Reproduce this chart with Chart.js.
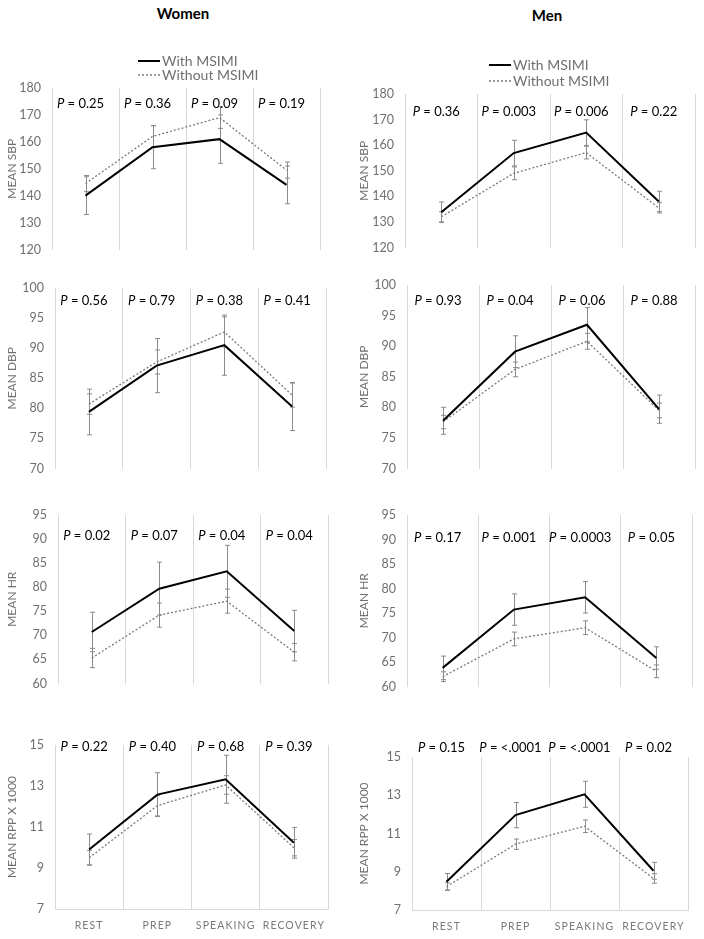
<!DOCTYPE html>
<html lang="en">
<head>
  <meta charset="UTF-8">
  <title>Hemodynamics with and without MSIMI</title>
  <script src="https://cdn.jsdelivr.net/npm/chart.js"></script>
  <style>
    body { margin: 0; background: #fff; }
    #page { position: relative; width: 704px; height: 939px; font-family: Lato, sans-serif; }
    .col-title { position: absolute; font-weight: bold; font-size: 15px; transform: translateX(-50%); }
    .panel { position: absolute; width: 352px; }
  </style>
</head>
<body>
<div id="page">
  <div class="col-title" style="left:183px; top:4px;">Women</div>
  <div class="col-title" style="left:547px; top:6px;">Men</div>
</div>

<script>
  const categories = ['REST', 'PREP', 'SPEAKING', 'RECOVERY'];

  // Women
  const sbpWomenWith = [140, 158, 161, 144];
  const sbpWomenWithErr = [7, 8, 9, 7];
  const sbpWomenWithout = [144.5, 162, 169, 149.5];
  const sbpWomenWithoutErr = [3, 4, 4, 3];
  const dbpWomenWith = [79.4, 87.1, 90.5, 80.3];
  const dbpWomenWithErr = [3.8, 4.5, 5, 4];
  const dbpWomenWithout = [80.7, 87.7, 92.7, 82.2];
  const dbpWomenWithoutErr = [1.7, 2, 2.5, 2];
  const hrWomenWith = [70.7, 79.7, 83.3, 70.9];
  const hrWomenWithErr = [4.1, 5.5, 5.4, 4.3];
  const hrWomenWithout = [65.3, 74.2, 77.1, 66.5];
  const hrWomenWithoutErr = [2, 2.5, 2.5, 1.8];
  const rppWomenWith = [9.9, 12.58, 13.33, 10.23];
  const rppWomenWithErr = [0.76, 1.07, 1.17, 0.75];
  const rppWomenWithout = [9.5, 12.04, 13.05, 9.99];
  const rppWomenWithoutErr = [0.35, 0.5, 0.45, 0.4];

  // Men
  const sbpMenWith = [133.8, 156.9, 164.9, 138];
  const sbpMenWithErr = [4, 5, 5, 4];
  const sbpMenWithout = [132, 149, 157.1, 135.5];
  const sbpMenWithoutErr = [2, 2.5, 2.5, 2];
  const dbpMenWith = [77.8, 89.1, 93.5, 79.7];
  const dbpMenWithErr = [2.2, 2.6, 2.8, 2.3];
  const dbpMenWithout = [77.6, 86.2, 90.8, 79.5];
  const dbpMenWithoutErr = [1.1, 1.2, 1.3, 1.2];
  const hrMenWith = [63.8, 75.7, 78.2, 65.8];
  const hrMenWithErr = [2.4, 3.2, 3.2, 2.3];
  const hrMenWithout = [62, 69.7, 72, 63.1];
  const hrMenWithoutErr = [1, 1.4, 1.4, 1.3];
  const rppMenWith = [8.48, 11.96, 13.05, 9.05];
  const rppMenWithErr = [0.43, 0.66, 0.68, 0.44];
  const rppMenWithout = [8.22, 10.44, 11.38, 8.65];
  const rppMenWithoutErr = [0.2, 0.27, 0.33, 0.25];

  // P values per phase
  const pSbpWomen = ['0.25', '0.36', '0.09', '0.19'];
  const pSbpMen = ['0.36', '0.003', '0.006', '0.22'];
  const pDbpWomen = ['0.56', '0.79', '0.38', '0.41'];
  const pDbpMen = ['0.93', '0.04', '0.06', '0.88'];
  const pHrWomen = ['0.02', '0.07', '0.04', '0.04'];
  const pHrMen = ['0.17', '0.001', '0.0003', '0.05'];
  const pRppWomen = ['0.22', '0.40', '0.68', '0.39'];
  const pRppMen = ['0.15', '<.0001', '<.0001', '0.02'];

  const greyText = '#707070';
  const page = document.getElementById('page');

  // area = [left, top, right, bottom] of the plot area on the page
  const panels = [
    { col: 0, top: 0, area: [52, 88, 320, 256], yMin: 120, yMax: 180, step: 10, title: 'MEAN SBP',
      w: sbpWomenWith, we: sbpWomenWithErr, wo: sbpWomenWithout, woe: sbpWomenWithoutErr, p: pSbpWomen, pY: 16,
      legend: { x: 138, y: [61, 75] } },
    { col: 352, top: 0, area: [405, 94, 695, 254], yMin: 120, yMax: 180, step: 10, title: 'MEAN SBP',
      w: sbpMenWith, we: sbpMenWithErr, wo: sbpMenWithout, woe: sbpMenWithoutErr, p: pSbpMen, pY: 18,
      legend: { x: 137, y: [65, 81] } },
    { col: 0, top: 258, area: [55, 288, 326, 475], yMin: 70, yMax: 100, step: 5, title: 'MEAN DBP',
      w: dbpWomenWith, we: dbpWomenWithErr, wo: dbpWomenWithout, woe: dbpWomenWithoutErr, p: pDbpWomen, pY: 13 },
    { col: 352, top: 255, area: [407, 285, 695, 475], yMin: 70, yMax: 100, step: 5, title: 'MEAN DBP',
      w: dbpMenWith, we: dbpMenWithErr, wo: dbpMenWithout, woe: dbpMenWithoutErr, p: pDbpMen, pY: 16 },
    { col: 0, top: 485, area: [58, 515, 328, 690], yMin: 60, yMax: 95, step: 5, title: 'MEAN HR',
      w: hrWomenWith, we: hrWomenWithErr, wo: hrWomenWithout, woe: hrWomenWithoutErr, p: pHrWomen, pY: 21 },
    { col: 352, top: 485, area: [407, 515, 692, 693], yMin: 60, yMax: 95, step: 5, title: 'MEAN HR',
      w: hrMenWith, we: hrMenWithErr, wo: hrMenWithout, woe: hrMenWithoutErr, p: pHrMen, pY: 23 },
    { col: 0, top: 712, area: [55, 745, 328, 909], yMin: 7, yMax: 15, step: 2, title: 'MEAN RPP X 1000',
      w: rppWomenWith, we: rppWomenWithErr, wo: rppWomenWithout, woe: rppWomenWithoutErr, p: pRppWomen, pY: 2,
      bottomRow: true },
    { col: 352, top: 712, area: [412, 757, 688, 910], yMin: 7, yMax: 15, step: 2, title: 'MEAN RPP X 1000',
      w: rppMenWith, we: rppMenWithErr, wo: rppMenWithout, woe: rppMenWithoutErr, p: pRppMen, pY: -9,
      bottomRow: true }
  ];

  // error bars under the lines, letter spacing for the phase labels
  const errorBars = {
    id: 'errorBars',
    beforeDatasetsDraw(chart) {
      const { ctx, scales: { x, y } } = chart;
      ctx.save();
      ctx.strokeStyle = '#8a8a8a';
      ctx.lineWidth = 1;
      chart.data.datasets.forEach(ds => {
        ds.data.forEach((v, i) => {
          const px = Math.round(x.getPixelForValue(i)) + 0.5;
          const hi = y.getPixelForValue(v + ds.errors[i]);
          const lo = y.getPixelForValue(v - ds.errors[i]);
          ctx.beginPath();
          ctx.moveTo(px, hi); ctx.lineTo(px, lo);
          ctx.moveTo(px - 2.5, hi); ctx.lineTo(px + 2.5, hi);
          ctx.moveTo(px - 2.5, lo); ctx.lineTo(px + 2.5, lo);
          ctx.stroke();
        });
      });
      ctx.restore();
    },
    afterDatasetsDraw(chart, args, opts) {
      chart.ctx.letterSpacing = opts.spacing || '0px';
    },
    afterDraw(chart) {
      chart.ctx.letterSpacing = '0px';
    }
  };

  // P value labels and the legend
  const annotations = {
    id: 'annotations',
    afterDraw(chart, args, opts) {
      const { ctx, scales: { x } } = chart;
      const top = chart.chartArea.top;
      ctx.save();
      ctx.textBaseline = 'middle';
      ctx.textAlign = 'left';
      ctx.fillStyle = '#000';
      opts.pValues.forEach((pv, i) => {
        const cx = x.getPixelForValue(i) - 5;
        const rest = ' = ' + pv;
        ctx.font = 'italic 13px Lato';
        const wP = ctx.measureText('P').width;
        ctx.font = '13px Lato';
        const wR = ctx.measureText(rest).width;
        const sx = cx - (wP + wR) / 2;
        ctx.font = 'italic 13px Lato';
        ctx.fillText('P', sx, top + opts.pY);
        ctx.font = '13px Lato';
        ctx.fillText(rest, sx + wP, top + opts.pY);
      });
      if (opts.legend) {
        chart.data.datasets.forEach((ds, i) => {
          const ly = opts.legend.y[i];
          ctx.save();
          ctx.strokeStyle = ds.borderColor;
          ctx.lineWidth = ds.borderWidth;
          ctx.setLineDash(ds.borderDash || []);
          ctx.beginPath();
          ctx.moveTo(opts.legend.x, ly);
          ctx.lineTo(opts.legend.x + 22, ly);
          ctx.stroke();
          ctx.restore();
          ctx.fillStyle = greyText;
          ctx.font = '14px Lato';
          ctx.fillText(ds.label, opts.legend.x + 24, ly);
        });
      }
      ctx.restore();
    }
  };

  panels.forEach(cfg => {
    const [aL, aT, aR, aB] = cfg.area;
    const bottom = cfg.bottomRow ? 939 : aB + 12;
    const h = bottom - cfg.top;

    const div = document.createElement('div');
    div.className = 'panel';
    div.style.left = cfg.col + 'px';
    div.style.top = cfg.top + 'px';
    div.style.height = h + 'px';
    const canvas = document.createElement('canvas');
    div.appendChild(canvas);
    page.appendChild(div);

    new Chart(canvas, {
      type: 'line',
      data: {
        labels: categories,
        datasets: [
          { label: 'With MSIMI', data: cfg.w, errors: cfg.we, borderColor: '#000000', borderWidth: 2,
            pointRadius: 0, tension: 0, fill: false },
          { label: 'Without MSIMI', data: cfg.wo, errors: cfg.woe, borderColor: '#7a7a7a', borderWidth: 1.3,
            borderDash: [2, 2], pointRadius: 0, tension: 0, fill: false }
        ]
      },
      options: {
        responsive: true,
        maintainAspectRatio: false,
        animation: false,
        events: [],
        layout: {
          padding: { top: aT - cfg.top, right: cfg.col + 352 - aR, left: 0, bottom: 0 }
        },
        plugins: {
          legend: { display: false },
          tooltip: { enabled: false },
          errorBars: { spacing: cfg.bottomRow ? '1.1px' : '0px' },
          annotations: { pValues: cfg.p, pY: cfg.pY, legend: cfg.legend }
        },
        scales: {
          x: {
            offset: true,
            grid: { offset: true, color: '#d9d9d9', drawTicks: false },
            border: { display: !!cfg.bottomRow, color: '#d9d9d9' },
            ticks: { display: !!cfg.bottomRow, color: '#7a7a7a', font: { family: 'Lato', size: 10.5 },
                     padding: 10, z: 1, maxRotation: 0, autoSkip: false },
            afterFit: s => { s.height = bottom - aB; }
          },
          y: {
            min: cfg.yMin,
            max: cfg.yMax,
            ticks: { stepSize: cfg.step, color: greyText, font: { family: 'Lato', size: 12.5 }, padding: 11 },
            grid: { display: false, drawTicks: false },
            border: { display: false },
            title: { display: true, text: cfg.title, color: greyText, font: { family: 'Lato', size: 12 },
                     padding: { top: cfg.col ? 5 : 5, bottom: 0 } },
            afterFit: s => { s.width = aL - cfg.col; }
          }
        }
      },
      plugins: [errorBars, annotations]
    });
  });
</script>
</body>
</html>
